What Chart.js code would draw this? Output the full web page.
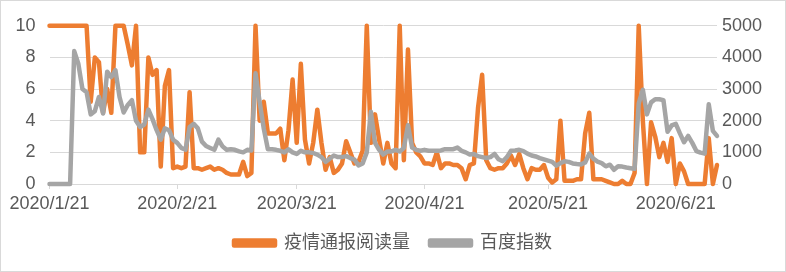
<!DOCTYPE html>
<html>
<head>
<meta charset="utf-8">
<script src="https://cdn.jsdelivr.net/npm/chart.js@4/dist/chart.umd.min.js"></script>
<style>
  html, body { margin: 0; padding: 0; background: #fff; }
  .frame { width: 786px; height: 272px; box-sizing: border-box; border: 1px solid #d9d9d9; }
  canvas { display: block; }
</style>
</head>
<body>
<div class="frame"><canvas id="chart" width="784" height="270"></canvas></div>
<script>
// categories: one per day, 2020/1/21 .. 2020/7/1
const startDay = new Date(2020, 0, 21);
const dayCount = 163;
const dates = [];
for (let i = 0; i < dayCount; i++) {
    const d = new Date(startDay.getFullYear(), startDay.getMonth(), startDay.getDate() + i);
    dates.push(`${d.getFullYear()}/${d.getMonth() + 1}/${d.getDate()}`);
}

// 疫情通报阅读量 (left axis, 0-10)
const readCount = [
    10, 10, 10, 10, 10, 10, 10, 10, 10, 10,
    5.2, 8.0, 7.7, 4.5, 6.0, 4.5, 10, 10, 10, 8.8,
    7.5, 10, 2.0, 2.0, 8.0, 6.9, 7.2, 1.1, 6.2, 7.2,
    1.0, 1.1, 1.0, 1.1, 5.8, 1.0, 1.0, 0.9, 1.0, 1.1,
    0.9, 1.0, 0.9, 0.7, 0.6, 0.6, 0.6, 1.4, 0.5, 0.7,
    10, 4.0, 5.2, 3.2, 3.2, 3.2, 3.5, 1.5, 3.4, 6.6,
    2.6, 7.6, 2.8, 1.3, 2.6, 4.7, 2.6, 0.9, 1.7, 0.7,
    0.9, 1.3, 2.7, 2.0, 1.3, 1.4, 2.1, 10, 2.6, 4.4,
    2.8, 1.3, 2.6, 1.3, 1.0, 10, 1.5, 8.5, 2.6, 2.0,
    1.75, 1.3, 1.3, 1.2, 2.0, 1.0, 1.3, 1.3, 1.2, 1.2,
    1.0, 0.3, 1.2, 1.3, 4.8, 6.9, 1.5, 1.0, 0.9, 1.0,
    1.0, 1.3, 1.8, 1.2, 1.9, 1.0, 0.3, 1.0, 0.9, 0.9,
    1.2, 0.4, 0.1, 0.3, 4.0, 0.2, 0.2, 0.2, 0.3, 0.3,
    3.2, 4.5, 0.3, 0.3, 0.3, 0.2, 0.1, 0.0, 0.0, 0.2,
    0.0, 0.0, 0.7, 10, 4.0, 0.0, 3.9, 3.0, 1.7, 2.6,
    1.4, 2.9, 0.0, 1.3, 0.8, 0.0, 0.0, 0.0, 0.0, 0.0,
    2.9, 0.0, 1.2
];

// 百度指数 (right axis, 0-5000)
const baiduIndex = [
    0, 0, 0, 0, 0, 0, 4200, 3800, 3000, 2900,
    2200, 2300, 2750, 2230, 3550, 3380, 3600, 2750, 2260, 2500,
    2650, 2000, 1800, 1880, 2350, 2050, 1700, 1400, 1760, 1700,
    1400, 1300, 1140, 1080, 1800, 1900, 1760, 1340, 1200, 1140,
    1080, 1400, 1190, 1080, 1100, 1080, 1030, 1000, 1080, 1060,
    3500, 2600, 1750, 1100, 1100, 1080, 1050, 1000, 1100, 1000,
    950, 1050, 1000, 1000, 980, 930, 850, 700, 800, 900,
    850, 850, 880, 820, 770, 590, 650, 1000, 2280, 1300,
    1080, 930, 1030, 1030, 1080, 1030, 1140, 1860, 1150, 1080,
    1050, 1080, 1050, 1050, 1050, 1060, 1100, 1100, 1100, 1150,
    1050, 1000, 930, 950, 880, 850, 820, 850, 950, 780,
    720, 850, 1050, 1060, 1080, 1040, 960, 900, 870, 820,
    780, 740, 700, 580, 660, 720, 700, 650, 630, 620,
    680, 960, 800, 710, 660, 560, 610, 450, 560, 550,
    520, 500, 480, 2550, 2980, 2200, 2580, 2680, 2680, 2650,
    1650, 1850, 1900, 1600, 1320, 1520, 1300, 1040, 990, 960,
    2520, 1680, 1520
];

const leftTicks = [0, 2, 4, 6, 8, 10];
const rightTicks = [0, 1000, 2000, 3000, 4000, 5000];

const textColor = '#595959';
const gridColor = '#d9d9d9';
const fontFamily = '"Liberation Sans", "Noto Sans CJK SC", sans-serif';

Chart.defaults.font.family = fontFamily;
Chart.defaults.font.size = 18;
Chart.defaults.color = textColor;

const ctx = document.getElementById('chart').getContext('2d');
new Chart(ctx, {
    type: 'line',
    data: {
        labels: dates,
        datasets: [{
                label: '疫情通报阅读量',
                data: readCount,
                yAxisID: 'y',
                borderColor: '#ed7d31',
                backgroundColor: '#ed7d31',
                borderWidth: 4.5,
                pointRadius: 0,
                tension: 0,
                borderJoinStyle: 'round',
                borderCapStyle: 'round',
                clip: 8,
                order: 1
            }, {
                label: '百度指数',
                data: baiduIndex,
                yAxisID: 'y1',
                borderColor: '#a5a5a5',
                backgroundColor: '#a5a5a5',
                borderWidth: 4.5,
                pointRadius: 0,
                tension: 0,
                borderJoinStyle: 'round',
                borderCapStyle: 'round',
                clip: 8,
                order: 0
            }]
    },
    options: {
        responsive: false,
        animation: false,
        devicePixelRatio: 1,
        layout: {
            padding: { top: 22, left: 0, right: 0, bottom: 9 }
        },
        plugins: {
            legend: {
                position: 'bottom',
                labels: {
                    boxWidth: 41,
                    boxHeight: 5,
                    padding: 20,
                    color: textColor,
                    font: { size: 18 },
                    sort: (a, b) => a.datasetIndex - b.datasetIndex
                }
            },
            tooltip: { enabled: false }
        },
        scales: {
            x: {
                type: 'category',
                offset: false,
                grid: {
                    display: true,
                    drawOnChartArea: false,
                    drawTicks: true,
                    tickLength: 5,
                    color: gridColor
                },
                border: { display: true, color: gridColor, width: 1 },
                ticks: {
                    autoSkip: false,
                    maxRotation: 0,
                    minRotation: 0,
                    padding: 4,
                    color: textColor,
                    callback: function (value) {
                        const label = this.getLabelForValue(value);
                        return label.endsWith('/21') ? label : null;
                    }
                },
                afterFit: (scale) => { scale.height = 30; }
            },
            y: {
                position: 'left',
                min: leftTicks[0],
                max: leftTicks[leftTicks.length - 1],
                grid: { color: gridColor, drawTicks: false },
                border: { display: false },
                ticks: {
                    stepSize: leftTicks[1] - leftTicks[0],
                    padding: 14,
                    color: textColor
                },
                afterFit: (scale) => { scale.width = 48.5; }
            },
            y1: {
                position: 'right',
                min: rightTicks[0],
                max: rightTicks[rightTicks.length - 1],
                grid: { drawOnChartArea: false, drawTicks: false },
                border: { display: false },
                ticks: {
                    stepSize: rightTicks[1] - rightTicks[0],
                    padding: 5,
                    color: textColor,
                    callback: (value) => String(value)
                },
                afterFit: (scale) => { scale.width = 68; }
            }
        }
    }
});
</script>
</body>
</html>
